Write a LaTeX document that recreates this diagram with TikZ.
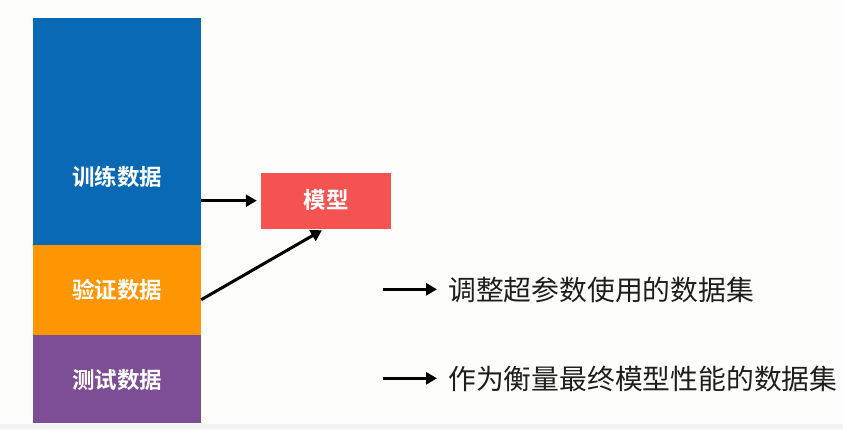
\documentclass[tikz,border=0pt]{standalone}
\usepackage{fontspec}
\newfontfamily\cjk{Noto Sans CJK SC}
\newfontfamily\cjkb{Noto Sans CJK SC Bold}
\usetikzlibrary{arrows.meta}
\definecolor{bgc}{HTML}{FDFDFB}
\definecolor{trainc}{HTML}{0A69B5}
\definecolor{valc}{HTML}{FE9502}
\definecolor{testc}{HTML}{7D4D95}
\definecolor{modelc}{HTML}{F55352}
\definecolor{txtc}{HTML}{1E1E1E}
\tikzset{
  block/.style={draw=none, inner sep=0pt, minimum width=168pt},
  blocklabel/.style={text=white, inner sep=0pt, font=\cjkb\fontsize{22.5}{26}\selectfont},
  desc/.style={text=txtc, inner sep=0pt, anchor=west, font=\cjk\fontsize{27.8}{34}\selectfont},
  arr/.style={line width=3pt, -{Triangle[length=11pt,width=12pt]}}
}
\begin{document}
\begin{tikzpicture}[x=1pt,y=-1pt]
\fill[bgc] (0,0) rectangle (843,429);
\useasboundingbox (0,0) rectangle (843,429);
\fill[black!5] (0,424) rectangle (843,429);
\node[block, fill=trainc, minimum height=227pt] (train) at (117,131.5) {};
\node[block, fill=valc, minimum height=89.5pt] (val) at (117,289.75) {};
\node[block, fill=testc, minimum height=88.5pt] (test) at (117,378.75) {};
\node[blocklabel] (trainlbl) at (117,177) {训练数据};
\node[blocklabel] (vallbl) at (117,290) {验证数据};
\node[blocklabel] (testlbl) at (117,379.5) {测试数据};
\node[fill=modelc, minimum width=130pt, minimum height=56pt, inner sep=0pt] (model) at (326,200.5) {};
\node[blocklabel] (modellbl) at (326,200) {模型};
\draw[arr] (train.east |- 0,200.7) -- ([xshift=-4pt]model.west |- 0,200.7);
\draw[arr] ([yshift=-10pt]val.east) -- ([xshift=-4pt,yshift=-1.5pt]model.south);
\node[desc] (d1) at (448,289.5) {调整超参数使用的数据集};
\node[desc] (d2) at (448,378.5) {作为衡量最终模型性能的数据集};
\coordinate (s1) at (383,289.3);
\coordinate (s2) at (383,378.3);
\draw[arr] (s1) -- ([xshift=-11pt]d1.west |- s1);
\draw[arr] (s2) -- ([xshift=-11pt]d2.west |- s2);
\end{tikzpicture}
\end{document}
